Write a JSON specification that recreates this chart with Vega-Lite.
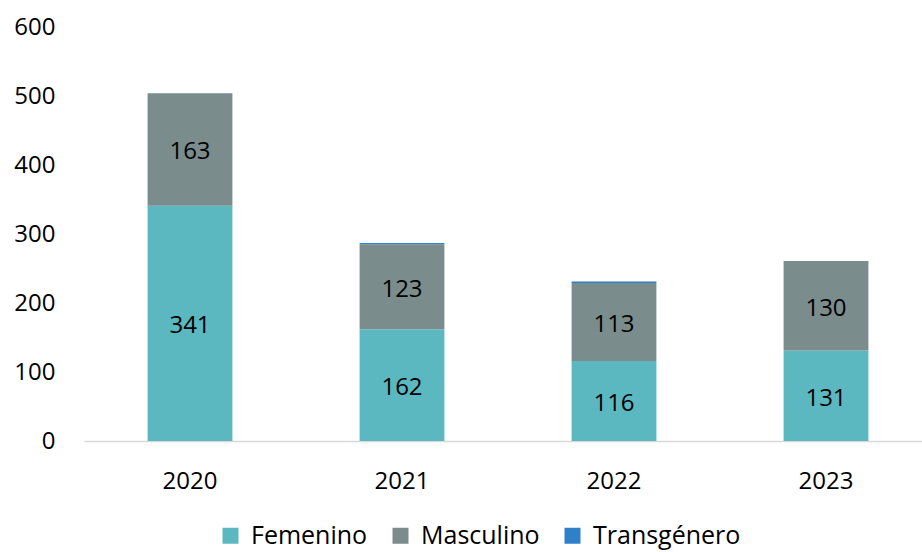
{
  "$schema": "https://vega.github.io/schema/vega-lite/v6.json",
  "width": 848,
  "height": 414,
  "autosize": {"type": "none"},
  "padding": {"left": 84, "top": 27, "right": 0, "bottom": 111},
  "background": "white",
  "config": {"view": {"stroke": null}, "font": "Open Sans"},
  "data": {
    "values": [
      {"anio": "2020", "sexo": "Femenino", "valor": 341},
      {"anio": "2020", "sexo": "Masculino", "valor": 163},
      {"anio": "2020", "sexo": "Transgénero", "valor": 0},
      {"anio": "2021", "sexo": "Femenino", "valor": 162},
      {"anio": "2021", "sexo": "Masculino", "valor": 123},
      {"anio": "2021", "sexo": "Transgénero", "valor": 2},
      {"anio": "2022", "sexo": "Femenino", "valor": 116},
      {"anio": "2022", "sexo": "Masculino", "valor": 113},
      {"anio": "2022", "sexo": "Transgénero", "valor": 2},
      {"anio": "2023", "sexo": "Femenino", "valor": 131},
      {"anio": "2023", "sexo": "Masculino", "valor": 130},
      {"anio": "2023", "sexo": "Transgénero", "valor": 0}
    ]
  },
  "transform": [
    {"stack": "valor", "groupby": ["anio"], "sort": [{"field": "sexo", "order": "ascending"}], "as": ["v0", "v1"]},
    {"calculate": "(datum.v0 + datum.v1) / 2", "as": "mid"}
  ],
  "encoding": {
    "x": {
      "field": "anio", "type": "nominal", "title": null,
      "scale": {"paddingInner": 0.6, "paddingOuter": 0.3},
      "axis": {"labelAngle": 0, "labelFontSize": 24, "labelColor": "#000000", "labelPadding": 28, "ticks": false, "domainColor": "#d9d9d9", "domainWidth": 1.5}
    }
  },
  "layer": [
    {
      "mark": {"type": "bar"},
      "encoding": {
        "y": {
          "field": "v0", "type": "quantitative", "title": null,
          "scale": {"domain": [0, 600]},
          "axis": {"values": [0, 100, 200, 300, 400, 500, 600], "grid": false, "domain": false, "ticks": false, "labelFontSize": 24, "labelColor": "#000000", "labelPadding": 29}
        },
        "y2": {"field": "v1"},
        "color": {
          "field": "sexo", "type": "nominal",
          "scale": {"domain": ["Femenino", "Masculino", "Transgénero"], "range": ["#5bb8c1", "#7a8c8c", "#2e80c8"]},
          "legend": {"orient": "none", "legendX": 134, "legendY": 496, "direction": "horizontal", "title": null, "symbolType": "square", "symbolSize": 256, "symbolStrokeWidth": 0, "labelFontSize": 25, "labelColor": "#000000", "columnPadding": 20, "labelOffset": 8}
        }
      }
    },
    {
      "transform": [{"filter": "datum.sexo != 'Transgénero'"}],
      "mark": {"type": "text", "fontSize": 24, "color": "#000000", "dy": 3},
      "encoding": {
        "y": {"field": "mid", "type": "quantitative"},
        "text": {"field": "valor", "type": "quantitative"}
      }
    }
  ]
}
